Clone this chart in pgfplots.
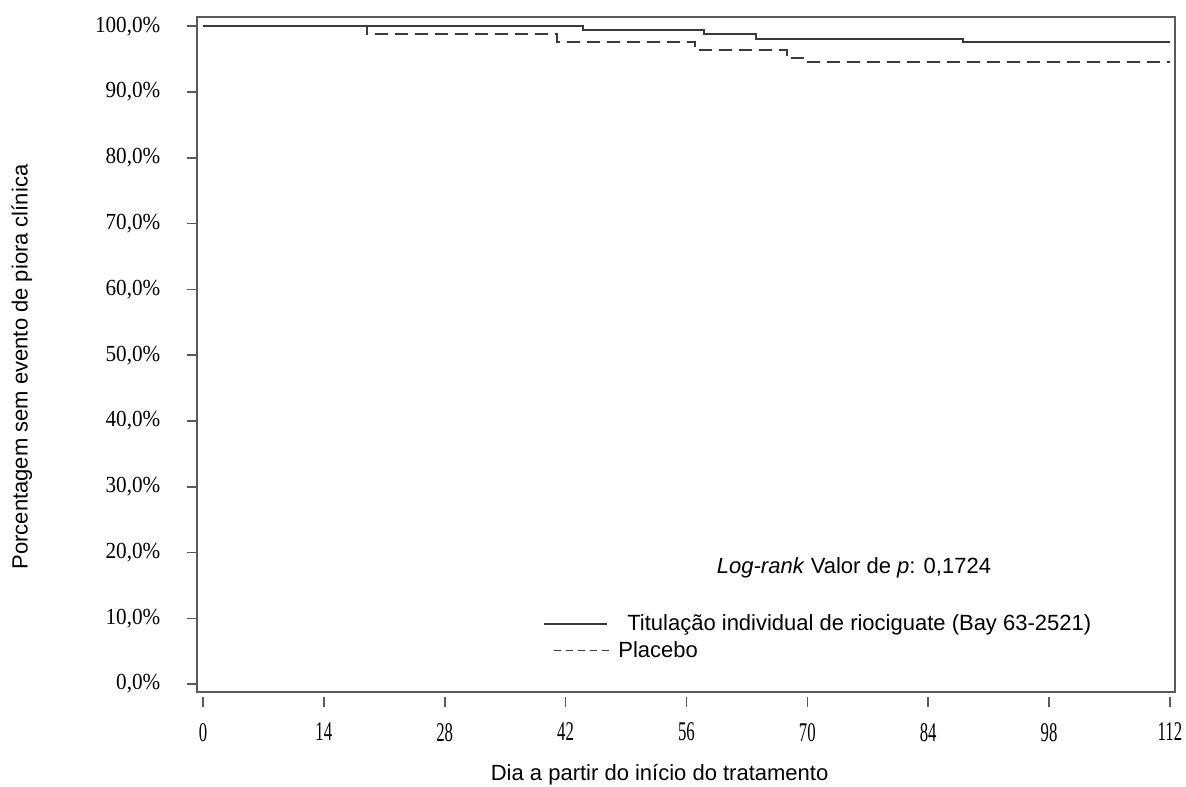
\documentclass[border=0pt]{standalone}
\usepackage{fontspec}
\setmainfont{Liberation Serif}
\setsansfont{Liberation Sans}
\usepackage{pgfplots}
\pgfplotsset{compat=1.18}
\definecolor{linegray}{HTML}{3A3A3A}
\definecolor{boxgray}{HTML}{5A5A5A}
\pgfplotsset{
    legsolid/.style={legend image code/.code={\draw[##1] (0pt,0pt) -- (31.5pt,0pt);}},
    legdash/.style={legend image code/.code={\draw[##1] (5pt,0pt) -- (34.5pt,0pt);}},
}

\begin{document}
\begin{tikzpicture}
\begin{axis}[
    scale only axis,
    width=489pt, height=337.5pt,
    xmin=-0.69, xmax=112.58,
    ymin=-1.2, ymax=101.4,
    axis line style={boxgray, line width=1pt},
    xtick={0,14,28,42,56,70,84,98,112},
    xticklabels={0,14,28,42,56,70,84,98,112},
    ytick={0,10,20,30,40,50,60,70,80,90,100},
    yticklabels={{0,0\%},{10,0\%},{20,0\%},{30,0\%},{40,0\%},{50,0\%},{60,0\%},{70,0\%},{80,0\%},{90,0\%},{100,0\%}},
    tick align=outside,
    major tick length=5pt,
    tick style={boxgray, line width=0.8pt},
    xtick style={yshift=-2.5pt},
    xtick pos=bottom, ytick pos=left,
    xticklabel style={font=\fontsize{13.5}{15}\selectfont, xscale=0.62, yshift=-7pt},
    yticklabel style={font=\fontsize{11.5}{12}\selectfont, xscale=0.92, xshift=-11pt},
    xlabel={Dia a partir do início do tratamento},
    ylabel={Porcentagem sem evento de piora clínica},
    xlabel style={font=\sffamily\fontsize{11}{13}\selectfont, at={(axis description cs:0.473,-0.123)}, anchor=center},
    ylabel style={font=\sffamily\fontsize{11}{13}\selectfont, at={(axis description cs:-0.179,0.4815)}, anchor=center},
    legend style={draw=none, fill=none, at={(axis cs:39.4,11.3)}, anchor=north west,
        font=\sffamily\fontsize{11}{12.5}\selectfont, cells={anchor=west},
        inner sep=0pt, row sep=0pt},
    clip=false,
]
\addplot[const plot, linegray, line width=1pt, forget plot] coordinates {
    (0,100) (44,99.39) (58,98.79) (64,98.13) (88,97.62) (112,97.62)};
\addplot[const plot, linegray, line width=1pt, dash pattern=on 6.5pt off 3.5pt, forget plot] coordinates {
    (0,100) (19,98.78) (41,97.57) (57,96.35) (67.6,95.2) (70.1,94.5) (112,94.5)};
\addlegendimage{legsolid, linegray, line width=0.9pt}
\addlegendentry{\hspace{4.5pt}Titulação individual de riociguate (Bay 63-2521)}
\addlegendimage{legdash, linegray, line width=0.9pt, dash pattern=on 3.5pt off 2.5pt}
\addlegendentry{Placebo}
\node[font=\sffamily\fontsize{11}{13}\selectfont, anchor=center] at (axis cs:75.4,17.6) {\textit{Log-rank} Valor de \textit{p}: 0,1724};
\end{axis}
\pgfresetboundingbox
\path[use as bounding box] (current axis.south west) ++(-98.5pt,-47.5pt) rectangle ([shift={(5.5pt,8.5pt)}]current axis.north east);
\end{tikzpicture}
\end{document}
